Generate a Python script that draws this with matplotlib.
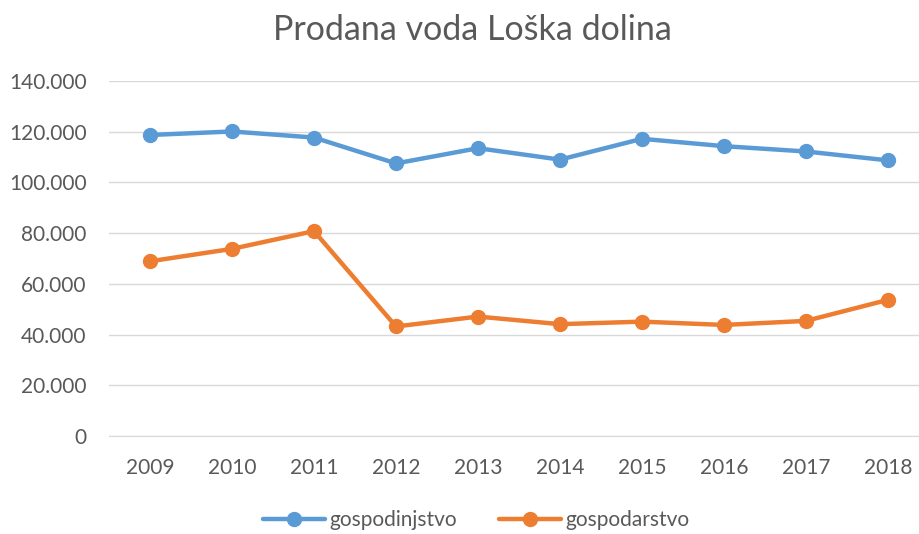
import matplotlib.pyplot as plt
from matplotlib.ticker import FuncFormatter

leta = ["2009", "2010", "2011", "2012", "2013", "2014", "2015", "2016", "2017", "2018"]
gospodinjstvo = [118700, 120100, 117700, 107500, 113500, 109000, 117200, 114300, 112200, 108700]
gospodarstvo = [68900, 73800, 80800, 43200, 47100, 44100, 45100, 43800, 45400, 53700]

plt.rcParams['font.family'] = ['Lato', 'DejaVu Sans']
siva = "#595959"

fig = plt.figure(figsize=(9.2, 5.34), dpi=100)
ax = fig.add_axes([109/920, 1 - 436/534, 820/920, 355/534])

x = range(len(leta))
ax.plot(x, gospodinjstvo, color="#5B9BD5", lw=3.2, marker="o", ms=10, label="gospodinjstvo",
        solid_capstyle="round")
ax.plot(x, gospodarstvo, color="#ED7D31", lw=3.2, marker="o", ms=10, label="gospodarstvo",
        solid_capstyle="round")

ax.set_xlim(-0.5, len(leta) - 0.5)
ax.set_ylim(0, 140000)
ax.set_yticks(range(0, 140001, 20000))
ax.yaxis.set_major_formatter(FuncFormatter(lambda v, p: "0" if v == 0 else f"{int(v):,}".replace(",", ".")))
ax.set_xticks(list(x))
ax.set_xticklabels(leta)
ax.grid(axis="y", color="#D9D9D9", lw=1)
ax.set_axisbelow(True)
for s in ["top", "right", "left"]:
    ax.spines[s].set_visible(False)
ax.spines["bottom"].set_color("#D9D9D9")
ax.tick_params(length=0, labelsize=15, colors=siva)
ax.tick_params(axis="x", pad=16)
ax.tick_params(axis="y", pad=16)

fig.text(472/920, 1 - 30/534, "Prodana voda Loška dolina", ha="center", va="center",
         fontsize=24.5, color=siva)

fig.legend(loc="center", bbox_to_anchor=(476/920, 1 - 520/534), ncol=2, frameon=False,
           fontsize=15, labelcolor=siva, handlelength=3, columnspacing=2.0, handletextpad=0.2)

fig.savefig("out.png", dpi=100)
